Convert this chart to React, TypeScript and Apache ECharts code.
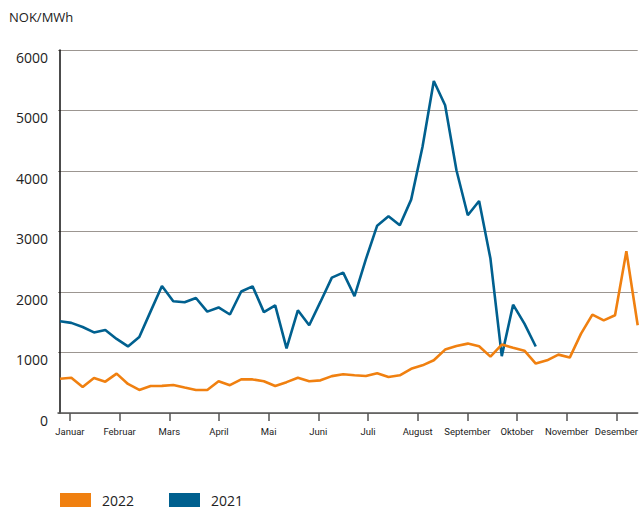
import React, { useEffect, useRef } from "react";
import * as echarts from "echarts";

const months = ["Januar", "Februar", "Mars", "April", "Mai", "Juni", "Juli", "August", "September", "Oktober", "November", "Desember"];

const series2022 = [565, 582, 430, 579, 518, 651, 480, 381, 446, 449, 463, 420, 381, 381, 524, 460, 555, 555, 524, 446, 510, 582, 524, 540, 610, 640, 623, 612, 656, 595, 623, 730, 788, 871, 1048, 1107, 1147, 1102, 932, 1132, 1078, 1030, 817, 871, 965, 916, 1312, 1626, 1532, 1615, 2673, 1450];

const series2021 = [1518, 1490, 1422, 1332, 1372, 1224, 1100, 1256, 1680, 2099, 1846, 1830, 1901, 1676, 1745, 1628, 2008, 2094, 1667, 1778, 1069, 1697, 1450, 1840, 2238, 2321, 1932, 2540, 3097, 3251, 3102, 3527, 4397, 5488, 5086, 4012, 3268, 3504, 2552, 940, 1790, 1477, 1099];

const yTicks = [0, 1000, 2000, 3000, 4000, 5000, 6000];

const ORANGE = "#f08010";
const BLUE = "#00608f";

const MONTH_START = 0.877;
const MONTH_STEP = 4.386;

export default function App() {
  const ref = useRef<HTMLDivElement>(null);
  useEffect(() => {
    document.body.style.margin = "0";
    const chart = echarts.init(ref.current!, null, { renderer: "svg" });
    const monthPos = months.map((_, i) => MONTH_START + i * MONTH_STEP);
    chart.setOption({
      animation: false,
      backgroundColor: "#ffffff",
      textStyle: { fontFamily: "'Open Sans', 'Noto Sans', sans-serif" },
      grid: { left: 58, top: 50, width: 583, height: 363, containLabel: false },
      title: {
        text: "NOK/MWh",
        left: 4,
        top: 5,
        textStyle: { fontSize: 13, fontWeight: "normal", color: "#222", fontFamily: "'Open Sans', sans-serif" },
      },
      legend: {
        left: 60,
        top: 493,
        padding: 0,
        itemWidth: 31,
        itemHeight: 14,
        itemGap: 35,
        icon: "rect",
        data: ["2022", "2021"],
        textStyle: { fontSize: 14, lineHeight: 14, color: "#222", padding: [0, 0, 0, 6], fontFamily: "'Open Sans', sans-serif" },
      },
      xAxis: {
        type: "value",
        min: -0.176,
        max: 51,
        splitLine: { show: false },
        axisLine: { show: true, lineStyle: { color: "#555", width: 1.5 } },
        axisTick: { show: true, customValues: monthPos, length: 8, lineStyle: { color: "#555", width: 1.5 } },
        axisLabel: {
          customValues: monthPos,
          formatter: (v: number) => months[Math.round((v - MONTH_START) / MONTH_STEP)] ?? "",
          fontSize: 9.5,
          color: "#222",
          margin: 13,
          fontFamily: "Roboto, sans-serif",
        },
      },
      yAxis: {
        type: "value",
        min: yTicks[0],
        max: yTicks[yTicks.length - 1],
        interval: 1000,
        axisLine: { show: true, lineStyle: { color: "#111", width: 1.5 } },
        axisTick: { show: false },
        splitLine: { show: true, lineStyle: { color: "#9c9691", width: 1.2 } },
        axisLabel: {
          fontSize: 14,
          color: "#222",
          margin: 10,
          verticalAlign: "top",
          formatter: (v: number) => String(v),
          fontFamily: "'Open Sans', sans-serif",
        },
      },
      series: [
        {
          name: "2022",
          type: "line",
          data: series2022.map((v, i) => [i, v]),
          symbol: "none",
          lineStyle: { color: ORANGE, width: 2.6 },
          itemStyle: { color: ORANGE },
          z: 3,
        },
        {
          name: "2021",
          type: "line",
          data: series2021.map((v, i) => [i, v]),
          symbol: "none",
          lineStyle: { color: BLUE, width: 2.6 },
          itemStyle: { color: BLUE },
          z: 2,
        },
      ],
    });
    return () => chart.dispose();
  }, []);
  return <div ref={ref} style={{ width: 641, height: 508 }} />;
}
